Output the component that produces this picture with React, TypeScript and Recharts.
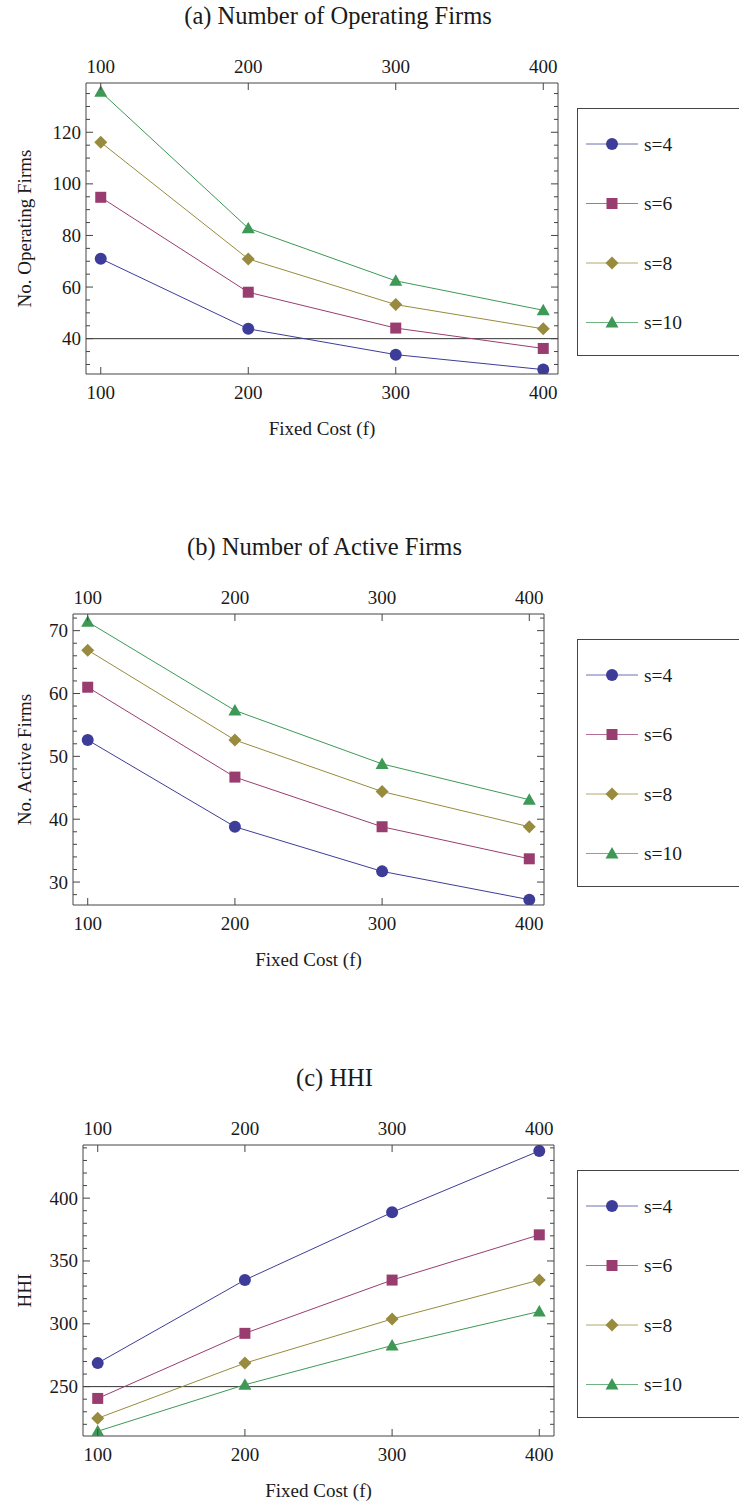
import React from "react";
import { LineChart, Line, XAxis, YAxis, ReferenceLine, Legend } from "recharts";

// fixed cost categories (x axis)
const fixedCost = [100, 200, 300, 400];
const seriesNames = ["s=4", "s=6", "s=8", "s=10"];

// (a) number of operating firms
const operatingS4 = [71, 43.8, 33.8, 28];
const operatingS6 = [94.8, 58, 44.1, 36.2];
const operatingS8 = [116.1, 70.9, 53.2, 43.8];
const operatingS10 = [135.7, 82.8, 62.4, 51];
const operatingTicks = [30, 35, 40, 45, 50, 55, 60, 65, 70, 75, 80, 85, 90, 95, 100, 105, 110, 115, 120, 125, 130, 135];
const operatingMajor = [40, 60, 80, 100, 120];

// (b) number of active firms
const activeS4 = [52.6, 38.8, 31.7, 27.2];
const activeS6 = [61, 46.7, 38.8, 33.7];
const activeS8 = [66.9, 52.6, 44.4, 38.8];
const activeS10 = [71.4, 57.3, 48.8, 43.1];
const activeTicks = [28, 30, 32, 34, 36, 38, 40, 42, 44, 46, 48, 50, 52, 54, 56, 58, 60, 62, 64, 66, 68, 70, 72];
const activeMajor = [30, 40, 50, 60, 70];

// (c) HHI
const hhiS4 = [268.7, 334.9, 388.7, 437.6];
const hhiS6 = [240.6, 292.4, 334.8, 370.8];
const hhiS8 = [224.8, 268.7, 303.8, 334.8];
const hhiS10 = [214.5, 251.5, 282.7, 309.8];
const hhiTicks = [220, 230, 240, 250, 260, 270, 280, 290, 300, 310, 320, 330, 340, 350, 360, 370, 380, 390, 400, 410, 420, 430, 440];
const hhiMajor = [250, 300, 350, 400];

const COLORS = ["#3d3d99", "#993d71", "#998b3d", "#3d9955"];
const FRAME = "#444";
const INK = "#1a1a1a";
const FONT = "'Liberation Serif', 'Times New Roman', serif";

const W = 739;
const H = 531;
const PLOT_TOP = 83;
const PLOT_BOTTOM = 374;
const TOP_AXIS_H = 30;
const BOTTOM_AXIS_H = 70;
const RIGHT_AXIS_W = 10;

function buildRows(a: number[], b: number[], c: number[], d: number[]) {
  return fixedCost.map((f, i) => ({ f, s4: a[i], s6: b[i], s8: c[i], s10: d[i] }));
}

function marker(kind: number, cx: number, cy: number, color: string, key?: any) {
  if (cx == null || cy == null) return <g key={key} />;
  if (kind === 0) return <circle key={key} cx={cx} cy={cy} r={6} fill={color} />;
  if (kind === 1) return <rect key={key} x={cx - 5.5} y={cy - 5.5} width={11} height={11} fill={color} />;
  if (kind === 2)
    return (
      <polygon key={key} points={`${cx},${cy - 6.5} ${cx + 6.5},${cy} ${cx},${cy + 6.5} ${cx - 6.5},${cy}`} fill={color} />
    );
  return <polygon key={key} points={`${cx},${cy - 6.5} ${cx + 6.5},${cy + 5} ${cx - 6.5},${cy + 5}`} fill={color} />;
}

const leftTick = (major: number[]) => (p: any) => {
  const v = p.payload.value;
  const big = major.includes(v);
  return (
    <g>
      <line x1={p.x} x2={p.x + (big ? 7 : 4)} y1={p.y} y2={p.y} stroke={FRAME} />
      {big && (
        <text x={p.x - 5} y={p.y + 6.5} textAnchor="end" fontSize={19} fill={INK} fontFamily={FONT}>
          {v}
        </text>
      )}
    </g>
  );
};

const rightTick = (major: number[]) => (p: any) => {
  const big = major.includes(p.payload.value);
  return <line x1={p.x} x2={p.x - (big ? 7 : 4)} y1={p.y} y2={p.y} stroke={FRAME} />;
};

const bottomTick = (p: any) => (
  <g>
    <line x1={p.x} x2={p.x} y1={p.y} y2={p.y - 7} stroke={FRAME} />
    <text x={p.x} y={p.y + 25} textAnchor="middle" fontSize={19} fill={INK} fontFamily={FONT}>
      {p.payload.value}
    </text>
  </g>
);

const topTick = (p: any) => (
  <g>
    <line x1={p.x} x2={p.x} y1={p.y} y2={p.y + 7} stroke={FRAME} />
    <text x={p.x} y={p.y - 10} textAnchor="middle" fontSize={19} fill={INK} fontFamily={FONT}>
      {p.payload.value}
    </text>
  </g>
);

function renderLegend(props: any) {
  // keep the series order s=4, s=6, s=8, s=10 (recharts sorts by name otherwise)
  const payload = [...(props.payload || [])].sort(
    (a: any, b: any) => seriesNames.indexOf(a.value) - seriesNames.indexOf(b.value)
  );
  return (
    <div style={{ width: 200, height: 248, border: `1px solid ${FRAME}`, boxSizing: "border-box", background: "#fff" }}>
      <svg width={200} height={246}>
        {payload.map((entry: any) => {
          const i = seriesNames.indexOf(entry.value);
          const y = 35 + i * 59.5;
          return (
            <g key={entry.value}>
              <line x1={8} x2={60} y1={y} y2={y} stroke={entry.color} strokeOpacity={0.75} />
              {marker(i, 34, y, entry.color)}
              <text x={66} y={y + 6.5} fontSize={19.5} fill={INK} fontFamily={FONT}>
                {entry.value}
              </text>
            </g>
          );
        })}
      </svg>
    </div>
  );
}

type PanelProps = {
  top: number;
  title: string;
  yLabel: string;
  rows: any[];
  yDomain: [number, number];
  yTicks: number[];
  yMajor: number[];
  plotLeft: number;
  plotRight: number;
  refY?: number;
};

function Panel({ top, title, yLabel, rows, yDomain, yTicks, yMajor, plotLeft, plotRight, refY }: PanelProps) {
  const margin = {
    top: PLOT_TOP - TOP_AXIS_H,
    left: 0,
    right: W - plotRight - RIGHT_AXIS_W,
    bottom: H - PLOT_BOTTOM - BOTTOM_AXIS_H,
  };
  const midX = (plotLeft + plotRight) / 2;
  const midY = (PLOT_TOP + PLOT_BOTTOM) / 2;
  const keys = ["s4", "s6", "s8", "s10"];

  return (
    <div style={{ position: "absolute", top, left: 0, width: W, height: H }}>
      <LineChart width={W} height={H} margin={margin} data={rows}>
        <XAxis
          xAxisId="b"
          dataKey="f"
          type="number"
          orientation="bottom"
          domain={[90, 410]}
          ticks={fixedCost}
          interval={0}
          allowDataOverflow
          height={BOTTOM_AXIS_H}
          tickSize={0}
          tickMargin={0}
          tickLine={false}
          axisLine={{ stroke: FRAME }}
          tick={bottomTick}
          label={{
            value: "Fixed Cost (f)",
            content: () => (
              <text x={midX} y={PLOT_BOTTOM + 61} textAnchor="middle" fontSize={19} fill={INK} fontFamily={FONT}>
                Fixed Cost (f)
              </text>
            ),
          }}
        />
        <XAxis
          xAxisId="t"
          dataKey="f"
          type="number"
          orientation="top"
          domain={[90, 410]}
          ticks={fixedCost}
          interval={0}
          allowDataOverflow
          height={TOP_AXIS_H}
          tickSize={0}
          tickMargin={0}
          tickLine={false}
          axisLine={{ stroke: FRAME }}
          tick={topTick}
          label={{
            value: title,
            content: () => (
              <text x={midX + 16} y={24} textAnchor="middle" fontSize={24.5} fill={INK} fontFamily={FONT}>
                {title}
              </text>
            ),
          }}
        />
        <YAxis
          yAxisId="l"
          type="number"
          domain={yDomain}
          ticks={yTicks}
          interval={0}
          allowDataOverflow
          width={plotLeft}
          tickSize={0}
          tickMargin={0}
          tickLine={false}
          axisLine={{ stroke: FRAME }}
          tick={leftTick(yMajor)}
          label={{
            value: yLabel,
            content: () => (
              <text
                x={31}
                y={midY}
                transform={`rotate(-90, 31, ${midY})`}
                textAnchor="middle"
                fontSize={19}
                fill={INK}
                fontFamily={FONT}
              >
                {yLabel}
              </text>
            ),
          }}
        />
        <YAxis
          yAxisId="r"
          orientation="right"
          type="number"
          domain={yDomain}
          ticks={yTicks}
          interval={0}
          allowDataOverflow
          width={RIGHT_AXIS_W}
          tickSize={0}
          tickMargin={0}
          tickLine={false}
          axisLine={{ stroke: FRAME }}
          tick={rightTick(yMajor)}
        />
        {refY !== undefined && (
          <ReferenceLine xAxisId="b" yAxisId="l" y={refY} stroke="#333" strokeWidth={1} />
        )}
        <Legend
          layout="vertical"
          align="center"
          verticalAlign="middle"
          wrapperStyle={{ position: "absolute", left: 577, top: 108, width: 200, height: 248 }}
          content={renderLegend}
        />
        {keys.map((k, i) => (
          <Line
            key={k}
            xAxisId="b"
            yAxisId="l"
            dataKey={k}
            name={seriesNames[i]}
            type="linear"
            stroke={COLORS[i]}
            strokeWidth={1}
            isAnimationActive={false}
            activeDot={false}
            dot={(p: any) => marker(i, p.cx, p.cy, COLORS[i], `${k}-${p.index}`)}
          />
        ))}
      </LineChart>
    </div>
  );
}

export default function App() {
  return (
    <div
      style={{
        position: "absolute",
        left: 0,
        top: 0,
        width: W,
        height: 1502,
        overflow: "hidden",
        background: "#fff",
      }}
    >
      <Panel
        top={0}
        title="(a) Number of Operating Firms"
        yLabel="No. Operating Firms"
        rows={buildRows(operatingS4, operatingS6, operatingS8, operatingS10)}
        yDomain={[26.3, 139.1]}
        yTicks={operatingTicks}
        yMajor={operatingMajor}
        plotLeft={86}
        plotRight={558}
        refY={40}
      />
      <Panel
        top={531}
        title="(b) Number of Active Firms"
        yLabel="No. Active Firms"
        rows={buildRows(activeS4, activeS6, activeS8, activeS10)}
        yDomain={[26.35, 72.65]}
        yTicks={activeTicks}
        yMajor={activeMajor}
        plotLeft={73}
        plotRight={544}
      />
      <Panel
        top={1062}
        title="(c) HHI"
        yLabel="HHI"
        rows={buildRows(hhiS4, hhiS6, hhiS8, hhiS10)}
        yDomain={[210.7, 442.3]}
        yTicks={hhiTicks}
        yMajor={hhiMajor}
        plotLeft={83}
        plotRight={554}
        refY={250}
      />
    </div>
  );
}
